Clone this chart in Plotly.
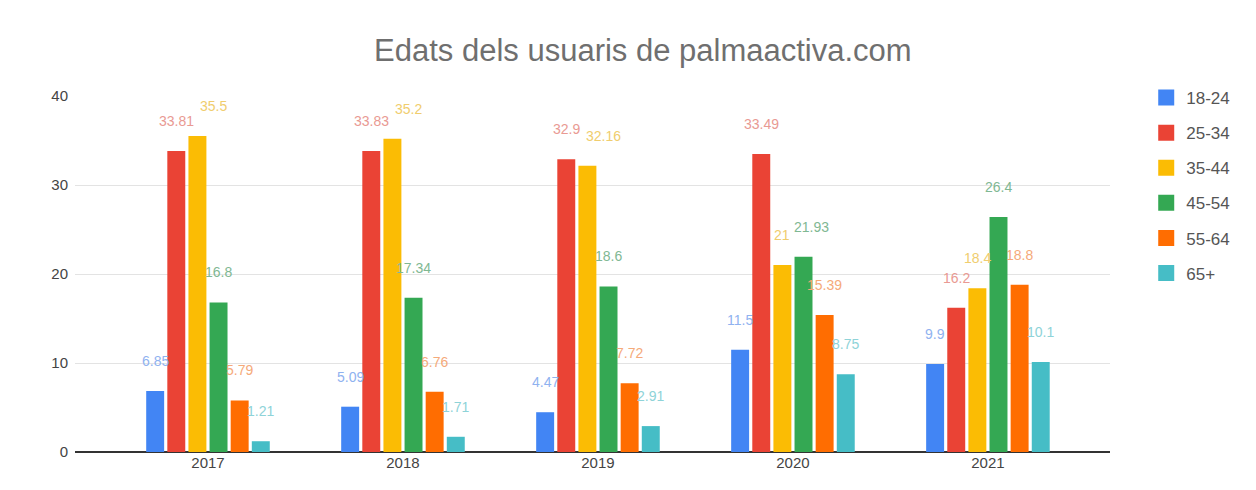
import plotly.graph_objects as go

years = ["2017", "2018", "2019", "2020", "2021"]
series_names = ["18-24", "25-34", "35-44", "45-54", "55-64", "65+"]
v_18_24 = [6.85, 5.09, 4.47, 11.5, 9.9]
v_25_34 = [33.81, 33.83, 32.9, 33.49, 16.2]
v_35_44 = [35.5, 35.2, 32.16, 21.0, 18.4]
v_45_54 = [16.8, 17.34, 18.6, 21.93, 26.4]
v_55_64 = [5.79, 6.76, 7.72, 15.39, 18.8]
v_65 = [1.21, 1.71, 2.91, 8.75, 10.1]
y_ticks = [0, 10, 20, 30, 40]

values = [v_18_24, v_25_34, v_35_44, v_45_54, v_55_64, v_65]
colors = ["#4285F4", "#EA4335", "#FBBC04", "#34A853", "#FF6D01", "#46BDC6"]
label_colors = ["#8fb2f0", "#e99a93", "#f0cd6e", "#7fb893", "#f5aa7a", "#8ed3d8"]

FONT = "Arial, Liberation Sans, sans-serif"
W, H = 1240, 482
ml, mr, mt, mb = 67, 138, 88, 38
bargap = 0.35
ymax = 40
xrange_ = [-0.682, 4.626]
label_size = 14

fig = go.Figure()
for i, (name, vals) in enumerate(zip(series_names, values)):
    fig.add_trace(go.Bar(
        x=years, y=vals, name=name, marker_color=colors[i],
        marker_line_width=0, showlegend=False,
        hoverinfo="x+y+name",
    ))
# legend entries with larger square swatches
for i, name in enumerate(series_names):
    fig.add_trace(go.Scatter(
        x=[None], y=[None], mode="markers", name=name, legendgroup=name,
        marker=dict(symbol="square", size=18, color=colors[i]),
    ))

# data labels, placed above each bar; colliding labels are pushed right
plot_w = W - ml - mr
plot_h = H - mt - mb
band = plot_w / (xrange_[1] - xrange_[0])
slot = band * (1 - bargap) / len(series_names)
lift = 30
annotations = []
for j in range(len(years)):
    placed = []
    for i, vals in enumerate(values):
        v = vals[j]
        txt = f"{v:g}"
        w = len(txt) * 0.56 * label_size
        h = label_size + 2
        dx = (i - (len(series_names) - 1) / 2) * slot
        cy = v / ymax * plot_h + lift
        cx = dx
        for _ in range(10):
            hit = None
            for (px, py, pw) in placed:
                if abs(cx - px) < (w + pw) / 2 + 1 and abs(cy - py) < h:
                    hit = (px, py, pw)
                    break
            if hit is None:
                break
            cx = hit[0] + (w + hit[2]) / 2 + 2
        placed.append((cx, cy, w))
        annotations.append(dict(
            x=j, y=v, xref="x", yref="y", text=txt,
            showarrow=False, xshift=cx, yshift=lift, yanchor="middle",
            font=dict(size=label_size, color=label_colors[i], family=FONT),
        ))

fig.update_layout(
    width=W, height=H,
    barmode="group", bargap=bargap, bargroupgap=0.15,
    margin=dict(l=ml, r=mr, t=mt, b=mb, autoexpand=False),
    plot_bgcolor="white", paper_bgcolor="white",
    font=dict(family=FONT, color="#444444", size=14),
    title=dict(text="Edats dels usuaris de palmaactiva.com", x=0.512, xanchor="center",
               y=1 - 42 / H, yanchor="middle",
               font=dict(size=31, color="#6f6f6f")),
    xaxis=dict(range=xrange_, showgrid=False, showline=False, ticks="",
               tickfont=dict(size=15, color="#444444"), zeroline=False,
               automargin=False),
    yaxis=dict(range=[0, ymax], tickvals=y_ticks, showgrid=True, gridcolor="#e3e3e3",
               gridwidth=1, zeroline=True, zerolinecolor="#333333", zerolinewidth=1.5,
               ticks="", tickfont=dict(size=15, color="#444444"), ticklabelstandoff=6,
               automargin=False),
    legend=dict(x=1.035, y=1.045, xanchor="left", yanchor="top",
                font=dict(size=17, color="#555555"), tracegroupgap=10,
                itemwidth=30, bgcolor="rgba(0,0,0,0)", itemsizing="trace"),
    annotations=annotations,
)

fig.write_html("out.html")
